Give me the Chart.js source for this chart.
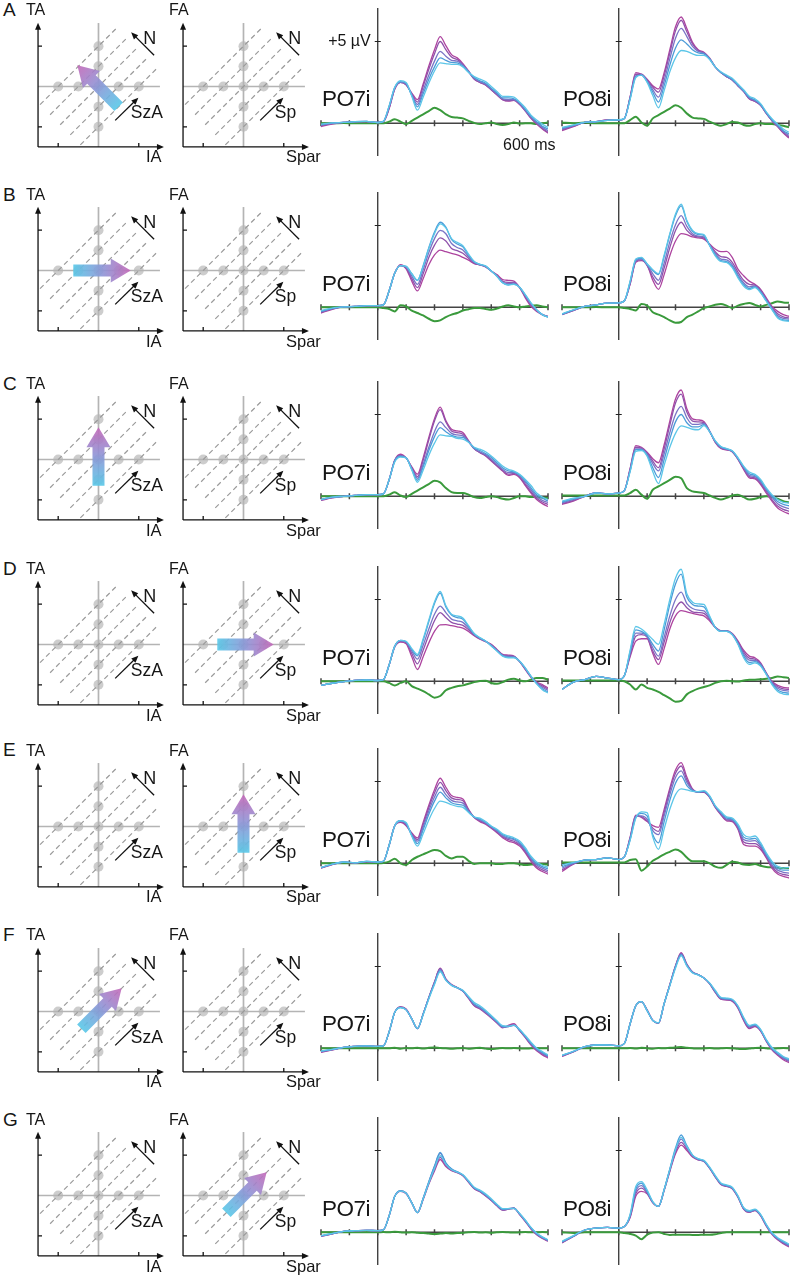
<!DOCTYPE html>
<html lang="en">
<head>
<meta charset="utf-8">
<title>PO7i / PO8i</title>
<script src="https://cdn.jsdelivr.net/npm/chart.js@4.4.1/dist/chart.umd.min.js"></script>
<style>
  html, body { margin: 0; padding: 0; background: #fff; }
  body { position: relative; width: 791px; height: 1277px; overflow: hidden;
         font-family: "Liberation Sans", Arial, Helvetica, sans-serif; color: #161616; }
  canvas { position: absolute; }
  .txt { position: absolute; line-height: 1; white-space: nowrap; }
</style>
</head>
<body>
<script>
// Tiempo (ms) de cada muestra
const tiempos = [-200,-160,-120,-80,-40,0, 20,40,60,80,100, 120,140,160,180,200, 220,240,260,280,300,
                 320,340,360,380,400, 420,440,460,480,500, 520,540,560,580,600];
const ticksMs = [-200,-100,0,100,200,300,400,500,600];
const ticksUV = [5];

// Esquemas: puntos grises, lineas iso-N (x - y = c), ticks de ejes
const puntosX = [-2,-1,0,1,2,0,0,0,0];
const puntosY = [0,0,0,0,0,-2,-1,1,2];
const isoN = [-2,-1,0,1,2];
const ticksEsq = [-2, 2];

// Flecha gruesa de cada fila: en que esquema (0 izq, 1 der), desde y hasta
const flechaEn = [0, 0, 0, 1, 1, 0, 1];
const flechaDesde = [[1,-1],[-1.25,0],[0,-1.3],[-1.3,0],[0,-1.3],[-0.85,-0.85],[-0.85,-0.85]];
const flechaHasta = [[-1.05,1.05],[1.6,0],[0,1.6],[1.5,0],[0,1.6],[1.15,1.15],[1.15,1.15]];

// ERPs: 5 niveles (cian -> magenta) y la diferencia (verde), µV
const A7 = [
  [-0.05,0.02,0.05,0.1,0.12,0.05, 0.12,1.05,2.2,2.6,2.5, 1.65,0.8,1.6,2.45,3.2, 3.7,3.65,3.6,3.6,3.45, 3.1,2.85,2.7,2.55,2.25, 1.95,1.65,1.65,1.6,1.3, 0.95,0.5,0.2,-0.05,-0.25],
  [-0.1,0.02,0.05,0.1,0.12,0.05, 0.12,1.05,2.2,2.55,2.45, 1.7,1.0,1.8,2.7,3.45, 4.0,3.85,3.72,3.7,3.5, 3.15,2.8,2.6,2.45,2.15, 1.85,1.55,1.55,1.5,1.25, 0.85,0.42,0.1,-0.18,-0.35],
  [-0.1,0,0.05,0.1,0.12,0.05, 0.12,1.0,2.15,2.5,2.4, 1.75,1.15,2.0,2.95,3.8, 4.4,4.1,3.85,3.8,3.55, 3.15,2.75,2.55,2.4,2.1, 1.8,1.5,1.45,1.45,1.2, 0.8,0.38,0.05,-0.25,-0.45],
  [-0.15,0,0.05,0.1,0.1,0.05, 0.1,0.9,2.1,2.5,2.35, 1.8,1.3,2.25,3.3,4.25, 5.0,4.5,4.05,3.9,3.6, 3.15,2.7,2.5,2.35,2.05, 1.75,1.45,1.38,1.42,1.18, 0.78,0.33,0,-0.3,-0.55],
  [-0.2,-0.05,0.05,0.1,0.1,0.05, 0.1,0.9,2.1,2.5,2.35, 1.85,1.45,2.4,3.5,4.5, 5.3,4.75,4.2,4.0,3.65, 3.2,2.7,2.5,2.35,2.05, 1.75,1.45,1.35,1.4,1.15, 0.75,0.3,-0.05,-0.35,-0.6]
];
const A7d = [0,0,0.02,0,0,0, 0,0.1,0.25,0.1,-0.05, 0.15,0.35,0.55,0.75,0.95, 0.8,0.55,0.38,0.35,0.3, 0.15,0.02,-0.05,0,0.05, -0.05,-0.1,-0.05,0.05,-0.02, 0,0,-0.05,0,0.05];
const A8 = [
  [-0.25,-0.1,0.05,0.1,0.18,0.22, 0.3,1.45,2.8,2.95,2.5, 1.7,0.95,2.0,3.15,4.0, 4.45,4.4,4.25,4.15,4.15, 3.9,3.45,3.15,2.95,2.75, 2.4,2.05,1.65,1.5,1.2, 0.7,0.28,-0.05,-0.35,-0.55],
  [-0.3,-0.12,0.05,0.1,0.18,0.2, 0.3,1.5,2.85,2.95,2.55, 1.9,1.3,2.3,3.55,4.6, 5.1,4.85,4.5,4.3,4.25, 3.95,3.45,3.1,2.9,2.7, 2.35,2.0,1.6,1.42,1.15, 0.65,0.22,-0.1,-0.45,-0.65],
  [-0.35,-0.15,0.05,0.1,0.18,0.2, 0.3,1.55,2.9,2.95,2.6, 2.05,1.6,2.6,3.95,5.2, 5.8,5.3,4.7,4.4,4.3, 3.95,3.45,3.1,2.85,2.65, 2.3,1.95,1.55,1.4,1.12, 0.62,0.18,-0.15,-0.5,-0.75],
  [-0.4,-0.18,0.05,0.1,0.2,0.2, 0.3,1.6,3.0,3.0,2.65, 2.2,1.9,2.9,4.3,5.65, 6.3,5.6,4.85,4.45,4.3, 3.95,3.45,3.1,2.85,2.65, 2.3,1.95,1.5,1.35,1.1, 0.6,0.15,-0.2,-0.55,-0.85],
  [-0.45,-0.2,0.05,0.1,0.2,0.2, 0.3,1.6,3.1,3.0,2.7, 2.3,2.1,3.1,4.5,5.9, 6.5,5.8,4.95,4.5,4.35, 4.0,3.45,3.1,2.85,2.65, 2.3,1.95,1.5,1.35,1.1, 0.6,0.15,-0.2,-0.6,-0.9]
];
const A8d = [0.05,0,0.05,0,0,0, 0,0.2,0.4,0.05,-0.15, 0.3,0.5,0.7,0.9,1.1, 0.95,0.6,0.35,0.3,0.27, 0.1,-0.05,-0.15,-0.05,0.08, 0.05,-0.1,-0.15,-0.05,0, -0.05,-0.05,-0.1,-0.15,-0.25];

const B7 = [
  [-0.2,-0.05,0.02,0.05,0.1,0.1, 0.15,1.0,2.1,2.55,2.5, 2.05,1.65,2.5,3.6,4.5, 5.1,4.85,4.2,3.97,3.77, 3.25,2.8,2.63,2.53,2.22, 1.9,1.5,1.36,1.4,1.23, 0.78,0.27,-0.15,-0.45,-0.6],
  [-0.25,-0.07,0.02,0.05,0.1,0.1, 0.15,1.0,2.1,2.55,2.5, 2.05,1.65,2.55,3.65,4.6, 5.2,4.9,4.15,3.87,3.7, 3.2,2.78,2.62,2.52,2.22, 1.9,1.5,1.37,1.42,1.23, 0.75,0.25,-0.15,-0.45,-0.6],
  [-0.28,-0.08,0.02,0.05,0.1,0.1, 0.15,1.0,2.1,2.55,2.45, 1.9,1.4,2.3,3.35,4.2, 4.7,4.5,3.9,3.66,3.5, 3.1,2.75,2.6,2.5,2.22, 1.92,1.55,1.45,1.48,1.22, 0.7,0.2,-0.18,-0.45,-0.58],
  [-0.3,-0.1,0.02,0.05,0.1,0.1, 0.15,1.0,2.1,2.55,2.4, 1.75,1.2,2.05,3.05,3.8, 4.25,4.05,3.6,3.46,3.3, 3.0,2.7,2.6,2.48,2.22, 1.95,1.6,1.52,1.52,1.22, 0.65,0.15,-0.2,-0.45,-0.57],
  [-0.35,-0.12,0.02,0.05,0.1,0.1, 0.15,1.0,2.1,2.6,2.35, 1.6,1.0,1.75,2.6,3.2, 3.5,3.4,3.3,3.2,3.05, 2.88,2.67,2.6,2.47,2.22, 2.0,1.7,1.65,1.6,1.2, 0.58,0.06,-0.25,-0.45,-0.55]
];
const B7d = [0,0,0,0,0,0, -0.05,-0.1,-0.25,0.12,0.05, -0.2,-0.35,-0.5,-0.7,-0.85, -0.8,-0.6,-0.45,-0.35,-0.2, -0.12,-0.05,-0.04,-0.1,-0.15, -0.08,0.05,0.12,0.05,0, 0.05,0.1,0.12,0.05,0];
const B8 = [
  [-0.4,-0.15,0.05,0.15,0.25,0.27, 0.4,1.6,2.95,3.05,2.65, 2.3,2.06,3.2,4.5,5.7, 6.3,5.3,4.7,4.5,4.44, 3.78,3.15,2.8,2.74,2.43, 1.8,1.3,1.08,1.2,0.88, 0.37,-0.14,-0.66,-0.82,-0.86],
  [-0.42,-0.17,0.05,0.15,0.25,0.27, 0.4,1.55,2.9,3.0,2.65, 2.25,2.0,3.1,4.45,5.6, 6.2,5.25,4.65,4.45,4.4, 3.8,3.2,2.85,2.8,2.5, 1.88,1.4,1.15,1.25,0.92, 0.4,-0.12,-0.6,-0.77,-0.8],
  [-0.43,-0.18,0.05,0.15,0.25,0.27, 0.4,1.5,2.85,2.95,2.6, 2.05,1.65,2.7,4.0,5.05, 5.6,4.95,4.5,4.35,4.3, 3.82,3.3,2.95,2.9,2.6, 2.0,1.5,1.25,1.3,0.98, 0.45,-0.05,-0.5,-0.68,-0.72],
  [-0.44,-0.19,0.05,0.15,0.25,0.27, 0.4,1.45,2.8,2.9,2.55, 1.85,1.4,2.4,3.65,4.7, 5.2,4.7,4.4,4.3,4.25, 3.85,3.4,3.1,3.05,2.75, 2.15,1.65,1.4,1.35,1.05, 0.5,0,-0.4,-0.58,-0.65],
  [-0.45,-0.2,0.05,0.15,0.25,0.27, 0.4,1.4,2.75,2.85,2.6, 1.65,1.1,2.0,3.15,4.05, 4.5,4.44,4.3,4.24,4.17, 3.87,3.56,3.4,3.42,3.05, 2.33,1.93,1.6,1.4,1.1, 0.58,0.06,-0.25,-0.45,-0.55]
];
const B8d = [0,0,0,0.02,0,0, -0.05,-0.1,-0.2,0.2,0.1, -0.3,-0.45,-0.6,-0.8,-0.95, -0.9,-0.6,-0.45,-0.25,-0.05, 0.05,0.15,0.2,0.1,-0.05, 0.1,0.2,0.27,0.15,0.05, 0.15,0.25,0.35,0.3,0.27];

const C7 = [
  [-0.2,-0.05,0,0.05,0.1,0.1, 0.15,1.0,2.1,2.4,2.35, 1.6,0.86,1.6,2.5,3.25, 3.75,3.7,3.66,3.54,3.5, 3.3,3.0,2.88,2.72,2.47, 2.16,1.85,1.65,1.54,1.34, 1.03,0.66,0.2,-0.04,-0.2],
  [-0.2,-0.05,0,0.05,0.1,0.1, 0.15,1.0,2.15,2.45,2.35, 1.65,0.98,1.8,2.8,3.65, 4.2,3.95,3.72,3.62,3.6, 3.32,2.95,2.8,2.62,2.38, 2.05,1.75,1.55,1.5,1.3, 0.95,0.52,0.1,-0.12,-0.28],
  [-0.2,-0.06,0,0.05,0.1,0.1, 0.15,1.0,2.2,2.45,2.35, 1.7,1.1,1.95,3.0,3.95, 4.55,4.2,3.85,3.75,3.7, 3.35,2.92,2.72,2.55,2.28, 1.95,1.65,1.45,1.45,1.25, 0.85,0.4,-0.02,-0.25,-0.38],
  [-0.22,-0.08,0,0.05,0.1,0.1, 0.15,1.0,2.2,2.5,2.35, 1.75,1.2,2.2,3.45,4.6, 5.3,4.55,4.0,3.9,3.8, 3.35,2.9,2.68,2.5,2.2, 1.88,1.58,1.35,1.4,1.18, 0.75,0.28,-0.12,-0.35,-0.5],
  [-0.25,-0.1,0,0.05,0.1,0.1, 0.15,1.0,2.2,2.57,2.35, 1.8,1.35,2.35,3.6,4.75, 5.45,4.63,4.1,4.0,3.9, 3.4,2.92,2.67,2.47,2.16, 1.85,1.54,1.28,1.34,1.13, 0.66,0.2,-0.2,-0.45,-0.62]
];
const C7d = [0,0,0,0,0,0, 0,0.1,0.25,0.05,-0.04, 0.15,0.35,0.55,0.75,0.95, 0.85,0.5,0.25,0.2,0.2, 0.1,-0.05,-0.1,-0.05,0, -0.05,-0.15,-0.2,-0.1,0, 0,-0.05,-0.05,-0.08,-0.1];
const C8 = [
  [-0.3,-0.12,0,0.2,0.15,0.2, 0.35,1.5,2.75,2.8,2.45, 1.5,0.78,1.9,3.0,3.85, 4.3,4.22,4.1,4.07,4.32, 3.95,3.4,3.05,2.92,2.78, 2.37,1.85,1.48,1.34,1.03, 0.51,0.1,-0.2,-0.37,-0.41],
  [-0.35,-0.15,0,0.2,0.15,0.2, 0.35,1.55,2.85,2.85,2.5, 1.75,1.15,2.25,3.5,4.55, 5.0,4.5,4.25,4.25,4.38, 3.96,3.38,3.02,2.9,2.77, 2.33,1.8,1.38,1.27,0.95, 0.45,0.02,-0.32,-0.5,-0.58],
  [-0.4,-0.2,0,0.2,0.15,0.2, 0.35,1.6,2.9,2.9,2.6, 2.0,1.55,2.6,3.9,5.0, 5.5,4.8,4.4,4.4,4.45, 3.97,3.35,2.98,2.88,2.75, 2.3,1.75,1.28,1.2,0.88, 0.38,-0.05,-0.45,-0.65,-0.75],
  [-0.45,-0.25,0,0.2,0.15,0.2, 0.35,1.65,3.0,2.95,2.65, 2.15,1.75,2.9,4.35,5.7, 6.25,5.15,4.6,4.55,4.5, 3.98,3.32,2.95,2.86,2.73, 2.28,1.7,1.2,1.13,0.8, 0.3,-0.2,-0.6,-0.8,-0.92],
  [-0.5,-0.3,0,0.2,0.15,0.2, 0.35,1.7,3.1,3.0,2.7, 2.3,2.05,3.15,4.6,5.95, 6.5,5.35,4.73,4.67,4.57, 4.0,3.3,2.92,2.84,2.72, 2.26,1.65,1.13,1.07,0.72, 0.2,-0.3,-0.72,-0.93,-1.07]
];
const C8d = [0.05,0.05,0.05,0.05,0.05,0.05, 0.05,0.2,0.4,0.1,-0.15, 0.4,0.6,0.8,1.0,1.2, 1.1,0.5,0.3,0.25,0.2, 0.05,-0.1,-0.2,-0.1,0.05, 0.1,-0.05,-0.2,-0.15,-0.05, 0,-0.05,-0.15,-0.3,-0.37];

const D7 = [
  [-0.25,-0.12,-0.02,0.05,0.08,0.05, 0.1,1.0,2.15,2.5,2.45, 2.0,1.65,2.6,3.75,4.85, 5.5,4.63,4.1,4.0,3.87, 3.4,2.92,2.67,2.47,2.16, 1.85,1.54,1.44,1.44,1.23, 0.82,0.31,-0.16,-0.51,-0.72],
  [-0.25,-0.12,-0.02,0.05,0.08,0.05, 0.1,1.0,2.15,2.5,2.42, 1.95,1.55,2.5,3.65,4.75, 5.4,4.55,4.05,3.9,3.8, 3.35,2.9,2.65,2.46,2.17, 1.86,1.56,1.47,1.46,1.22, 0.8,0.3,-0.14,-0.46,-0.65],
  [-0.25,-0.12,-0.02,0.05,0.08,0.05, 0.1,1.0,2.15,2.48,2.4, 1.85,1.35,2.2,3.2,4.1, 4.6,4.2,3.8,3.7,3.6, 3.25,2.86,2.62,2.45,2.2, 1.9,1.6,1.52,1.5,1.22, 0.77,0.28,-0.1,-0.36,-0.56],
  [-0.25,-0.12,-0.02,0.05,0.08,0.05, 0.1,1.0,2.12,2.45,2.35, 1.7,1.07,1.9,2.85,3.7, 4.2,3.9,3.6,3.5,3.42, 3.15,2.82,2.6,2.44,2.23, 1.92,1.62,1.56,1.52,1.21, 0.75,0.27,-0.07,-0.28,-0.48],
  [-0.25,-0.12,-0.02,0.05,0.08,0.05, 0.1,1.0,2.1,2.4,2.3, 1.5,0.72,1.5,2.35,3.05, 3.45,3.46,3.4,3.33,3.25, 3.05,2.78,2.57,2.43,2.26, 1.95,1.65,1.6,1.54,1.2, 0.72,0.25,-0.04,-0.2,-0.41]
];
const D7d = [0,0,0,0,0,0, 0,-0.1,-0.25,-0.1,0, -0.3,-0.45,-0.6,-0.8,-1.0, -0.9,-0.55,-0.4,-0.3,-0.25, -0.15,-0.05,0.02,0.04,-0.1, -0.15,-0.05,0.1,0.15,0.05, 0,0.1,0.2,0.2,0.1];
const D8 = [
  [-0.5,-0.05,0.1,0.3,0.2,0.1, 0.35,1.9,3.35,3.2,2.9, 2.55,2.26,3.5,5.0,6.3, 6.85,5.35,4.84,4.73,4.7, 4.0,3.3,3.05,3.05,2.84, 2.26,1.44,1.03,1.13,0.93, 0.41,-0.2,-0.62,-0.78,-0.82],
  [-0.5,-0.05,0.1,0.3,0.2,0.1, 0.35,1.8,3.15,3.05,2.8, 2.25,1.85,3.15,4.7,5.95, 6.55,5.15,4.7,4.6,4.55, 3.95,3.3,3.06,3.06,2.86, 2.3,1.55,1.15,1.2,0.98, 0.44,-0.15,-0.53,-0.68,-0.73],
  [-0.5,-0.05,0.1,0.3,0.2,0.1, 0.35,1.7,2.95,2.95,2.75, 2.05,1.54,2.7,4.0,5.0, 5.45,4.75,4.45,4.35,4.3, 3.85,3.3,3.07,3.07,2.88, 2.36,1.68,1.3,1.28,1.04, 0.47,-0.08,-0.42,-0.56,-0.6],
  [-0.5,-0.05,0.1,0.3,0.2,0.1, 0.35,1.6,2.75,2.85,2.7, 1.85,1.33,2.4,3.6,4.45, 4.85,4.5,4.25,4.2,4.15, 3.78,3.3,3.08,3.08,2.9, 2.42,1.8,1.42,1.36,1.08, 0.49,-0.04,-0.33,-0.46,-0.5],
  [-0.5,-0.05,0.1,0.3,0.2,0.1, 0.35,1.5,2.45,2.6,2.6, 1.7,1.03,2.0,3.2,4.0, 4.32,4.25,4.16,4.07,4.0, 3.7,3.3,3.1,3.1,2.92, 2.47,1.9,1.54,1.44,1.13, 0.51,0,-0.25,-0.37,-0.41]
];
const D8d = [0.05,0.05,0.05,0.05,0.05,0.05, 0,-0.2,-0.5,-0.2,-0.4, -0.5,-0.65,-0.85,-1.05,-1.25, -1.2,-0.8,-0.6,-0.45,-0.35, -0.25,-0.1,0,0.04,0, -0.02,0.05,0.1,0.1,0.12, 0.16,0.2,0.3,0.25,0.2];

const E7 = [
  [-0.25,-0.05,0.08,0.02,0.12,0.08, 0.12,1.1,2.3,2.6,2.5, 1.65,1.05,1.8,2.65,3.35, 3.8,3.72,3.58,3.48,3.42, 3.1,2.84,2.76,2.55,2.28, 2.08,1.81,1.67,1.56,1.36, 0.95,0.43,0.08,-0.12,-0.25],
  [-0.26,-0.05,0.08,0.02,0.12,0.08, 0.12,1.1,2.3,2.6,2.45, 1.7,1.2,2.05,3.0,3.8, 4.35,4.0,3.7,3.6,3.55, 3.15,2.83,2.7,2.52,2.25, 2.03,1.75,1.6,1.5,1.28, 0.88,0.36,-0.02,-0.2,-0.35],
  [-0.27,-0.06,0.08,0.02,0.11,0.08, 0.12,1.1,2.3,2.6,2.4, 1.75,1.35,2.2,3.2,4.05, 4.65,4.2,3.85,3.75,3.68, 3.2,2.82,2.65,2.47,2.22, 1.98,1.68,1.52,1.44,1.2, 0.8,0.28,-0.1,-0.3,-0.45],
  [-0.28,-0.07,0.07,0.02,0.1,0.08, 0.12,1.1,2.3,2.55,2.35, 1.8,1.45,2.35,3.4,4.3, 4.95,4.45,4.0,3.9,3.82, 3.25,2.8,2.6,2.43,2.18, 1.92,1.62,1.45,1.35,1.13, 0.72,0.2,-0.2,-0.4,-0.55],
  [-0.3,-0.08,0.06,0.02,0.1,0.08, 0.12,1.1,2.3,2.5,2.3, 1.85,1.55,2.5,3.55,4.5, 5.2,4.65,4.14,4.03,3.93, 3.3,2.8,2.55,2.39,2.14, 1.87,1.56,1.36,1.26,1.05, 0.64,0.12,-0.29,-0.5,-0.66]
];
const E7d = [0,0,0,0,0,0, 0.02,0.1,0.28,0,-0.1, 0.2,0.4,0.55,0.7,0.82, 0.75,0.45,0.3,0.4,0.4, 0.15,-0.04,0,0,0, -0.05,-0.04,0,0,-0.05, -0.1,-0.08,-0.05,-0.05,-0.08];
const E8 = [
  [-0.1,0.05,0.2,0.23,0.33,0.23, 0.4,1.4,2.75,3.15,3.1, 1.6,0.85,2.1,3.3,4.2, 4.55,4.49,4.4,4.38,4.44, 4.14,3.52,3.17,2.84,2.76, 2.39,1.77,1.6,1.67,1.26, 0.64,0.12,-0.19,-0.29,-0.25],
  [-0.2,0.02,0.2,0.23,0.33,0.23, 0.4,1.45,2.8,3.05,2.9, 1.75,1.25,2.55,3.85,4.9, 5.35,4.75,4.44,4.37,4.4, 4.1,3.5,3.1,2.78,2.7, 2.3,1.6,1.48,1.52,1.15, 0.55,0.02,-0.3,-0.42,-0.42],
  [-0.3,0,0.2,0.23,0.33,0.23, 0.4,1.5,2.85,2.9,2.7, 2.0,1.75,2.9,4.2,5.25, 5.65,4.95,4.48,4.36,4.38, 4.07,3.47,3.05,2.7,2.65, 2.22,1.45,1.35,1.38,1.05, 0.48,-0.1,-0.42,-0.55,-0.6],
  [-0.4,-0.03,0.2,0.23,0.33,0.23, 0.4,1.55,2.9,2.85,2.6, 2.15,1.95,3.1,4.45,5.5, 5.95,5.1,4.5,4.35,4.35, 4.05,3.45,3.0,2.65,2.6, 2.15,1.3,1.2,1.2,0.95, 0.4,-0.2,-0.55,-0.68,-0.75],
  [-0.5,-0.05,0.2,0.23,0.33,0.23, 0.4,1.6,2.95,2.8,2.55, 2.3,2.2,3.3,4.6,5.7, 6.15,5.27,4.55,4.34,4.34, 4.03,3.42,2.96,2.6,2.55, 2.08,1.15,1.05,1.05,0.84, 0.33,-0.29,-0.66,-0.8,-0.9]
];
const E8d = [0.05,0.05,0.05,0.05,0.05,0.05, 0.05,0.2,0.25,-0.45,-0.2, 0.15,0.35,0.55,0.7,0.84, 0.7,0.35,0.12,0.12,0.12, 0,-0.2,-0.28,-0.1,0.1, 0.05,-0.08,-0.1,-0.05,-0.15, -0.22,-0.25,-0.27,-0.29,-0.29];

const F7 = [
  [-0.17,-0.06,0.06,0.12,0.15,0.12, 0.15,1.0,2.2,2.48,2.35, 1.8,1.22,2.05,3.02,3.9, 4.68,4.15,3.85,3.7,3.55, 3.17,2.8,2.6,2.32,2.0, 1.68,1.38,1.35,1.42,1.16, 0.78,0.38,0.02,-0.2,-0.4],
  [-0.18,-0.07,0.06,0.12,0.15,0.12, 0.15,1.0,2.2,2.5,2.35, 1.8,1.2,2.08,3.07,3.96, 4.75,4.18,3.86,3.7,3.52, 3.13,2.72,2.52,2.25,1.95, 1.63,1.33,1.33,1.4,1.12, 0.74,0.32,-0.03,-0.25,-0.45],
  [-0.2,-0.08,0.06,0.12,0.15,0.12, 0.15,1.0,2.2,2.5,2.36, 1.8,1.2,2.1,3.1,4.0, 4.82,4.2,3.87,3.7,3.5, 3.1,2.66,2.47,2.2,1.9, 1.6,1.3,1.33,1.42,1.1, 0.7,0.27,-0.07,-0.3,-0.5],
  [-0.22,-0.09,0.06,0.12,0.15,0.12, 0.15,1.0,2.2,2.52,2.38, 1.8,1.2,2.1,3.1,4.05, 4.88,4.22,3.88,3.7,3.5, 3.07,2.62,2.43,2.17,1.88, 1.58,1.28,1.36,1.45,1.08, 0.68,0.24,-0.1,-0.33,-0.53],
  [-0.25,-0.1,0.05,0.12,0.15,0.12, 0.15,1.0,2.2,2.55,2.4, 1.8,1.2,2.1,3.1,4.05, 4.9,4.25,3.9,3.72,3.5, 3.05,2.6,2.4,2.15,1.85, 1.55,1.25,1.4,1.5,1.08, 0.65,0.2,-0.15,-0.4,-0.6]
];
const F7d = [0,0,0,0,0,0, 0,0,0.03,-0.03,0.02, 0,0.03,-0.02,0.03,0.05, 0.02,0,-0.03,0,0.02, -0.03,0,0.03,-0.02,-0.05, -0.02,0.02,0,0.02,0, -0.02,0,0.02,0,0];
const F8 = [
  [-0.42,-0.18,0.1,0.2,0.2,0.15, 0.3,1.5,2.6,2.85,2.3, 1.7,1.56,2.72,3.82,4.9, 5.65,5.02,4.6,4.48,4.3, 4.0,3.55,3.12,3.07,3.0, 2.6,1.9,1.4,1.48,1.16, 0.53,0.05,-0.25,-0.5,-0.65],
  [-0.43,-0.19,0.1,0.2,0.2,0.15, 0.3,1.5,2.6,2.85,2.3, 1.7,1.55,2.74,3.85,4.97, 5.72,5.07,4.63,4.5,4.3, 3.98,3.5,3.08,3.03,2.97, 2.57,1.85,1.35,1.44,1.13, 0.5,0,-0.3,-0.55,-0.7],
  [-0.45,-0.2,0.1,0.2,0.2,0.15, 0.3,1.5,2.6,2.85,2.3, 1.7,1.54,2.74,3.87,5.0, 5.76,5.1,4.65,4.5,4.3, 3.97,3.46,3.05,3.0,2.94, 2.53,1.8,1.3,1.4,1.1, 0.47,-0.04,-0.35,-0.6,-0.76],
  [-0.48,-0.21,0.09,0.2,0.2,0.15, 0.3,1.5,2.6,2.85,2.33, 1.71,1.53,2.73,3.88,5.02, 5.8,5.12,4.66,4.5,4.3, 3.96,3.44,3.02,2.97,2.9, 2.5,1.75,1.25,1.36,1.07, 0.45,-0.07,-0.38,-0.64,-0.8],
  [-0.5,-0.22,0.08,0.2,0.2,0.15, 0.3,1.5,2.6,2.85,2.35, 1.72,1.52,2.72,3.9,5.05, 5.85,5.15,4.67,4.5,4.3, 3.95,3.42,3.0,2.95,2.88, 2.45,1.7,1.2,1.32,1.05, 0.42,-0.1,-0.42,-0.7,-0.88]
];
const F8d = [0,0,0,0,0,0, 0,0.02,-0.02,0.03,0, -0.03,0.02,0,0.03,0.05, 0.08,0.03,0,-0.02,0, 0.02,-0.02,0,0.02,0, -0.03,-0.05,-0.02,0.02,0.03, 0,-0.02,0,0.02,0];

const G7 = [
  [-0.2,-0.07,0.06,0.1,0.12,0.1, 0.15,1.0,2.2,2.52,2.38, 1.8,1.2,2.05,3.02,3.9, 4.68,4.15,3.82,3.68,3.52, 3.15,2.75,2.58,2.35,2.05, 1.72,1.45,1.45,1.45,1.15, 0.75,0.3,-0.05,-0.28,-0.45],
  [-0.22,-0.08,0.06,0.1,0.12,0.1, 0.15,1.0,2.2,2.55,2.4, 1.8,1.2,2.08,3.1,4.05, 4.88,4.25,3.88,3.7,3.5, 3.12,2.72,2.55,2.3,2.0, 1.68,1.4,1.45,1.48,1.14, 0.72,0.28,-0.07,-0.3,-0.48],
  [-0.23,-0.08,0.06,0.1,0.12,0.1, 0.15,1.0,2.2,2.55,2.4, 1.8,1.2,2.07,3.08,4.02, 4.82,4.22,3.86,3.69,3.5, 3.1,2.7,2.52,2.27,1.98, 1.66,1.38,1.43,1.47,1.12, 0.7,0.25,-0.1,-0.33,-0.5],
  [-0.24,-0.09,0.06,0.1,0.12,0.1, 0.15,1.0,2.2,2.52,2.38, 1.8,1.2,2.03,3.0,3.85, 4.58,4.1,3.8,3.66,3.48, 3.08,2.68,2.5,2.25,1.96, 1.64,1.36,1.42,1.47,1.1, 0.68,0.23,-0.12,-0.35,-0.52],
  [-0.25,-0.1,0.06,0.1,0.12,0.1, 0.15,1.0,2.2,2.5,2.35, 1.8,1.2,2.0,2.95,3.75, 4.45,4.02,3.76,3.64,3.46, 3.06,2.66,2.48,2.22,1.94, 1.62,1.35,1.42,1.48,1.08, 0.66,0.2,-0.15,-0.38,-0.55]
];
const G7d = [0,0,0,0,0,0, 0.02,0,0.03,0,-0.02, 0,-0.03,-0.05,-0.08,-0.1, -0.08,-0.05,-0.08,-0.05,-0.03, 0,0.02,-0.02,0,-0.03, 0,0.02,0,-0.02,0, 0.02,0,0,0.02,0];
const G8 = [
  [-0.55,-0.2,0.14,0.25,0.3,0.25, 0.35,1.1,2.8,3.1,2.6, 1.88,1.58,2.6,3.85,5.05, 5.8,5.25,4.72,4.5,4.4, 4.0,3.48,3.02,2.9,2.76, 2.24,1.52,1.32,1.42,1.1, 0.48,-0.03,-0.33,-0.53,-0.72],
  [-0.58,-0.23,0.14,0.25,0.3,0.25, 0.35,1.05,2.65,3.0,2.5, 1.85,1.58,2.62,3.88,5.15, 5.95,5.3,4.72,4.48,4.37, 3.96,3.44,2.98,2.86,2.72, 2.2,1.48,1.28,1.38,1.07, 0.45,-0.06,-0.37,-0.58,-0.78],
  [-0.6,-0.24,0.14,0.25,0.3,0.25, 0.35,1.0,2.5,2.85,2.45, 1.85,1.58,2.6,3.82,5.0, 5.7,5.2,4.68,4.46,4.35, 3.94,3.42,2.96,2.84,2.7, 2.18,1.46,1.26,1.36,1.05, 0.43,-0.08,-0.4,-0.62,-0.82],
  [-0.62,-0.25,0.14,0.25,0.3,0.25, 0.35,0.95,2.35,2.7,2.4, 1.82,1.58,2.58,3.78,4.9, 5.5,5.1,4.65,4.44,4.34, 3.93,3.4,2.94,2.82,2.68, 2.16,1.44,1.24,1.34,1.03, 0.41,-0.1,-0.43,-0.66,-0.86],
  [-0.65,-0.26,0.14,0.25,0.3,0.25, 0.35,0.9,2.2,2.5,2.35, 1.8,1.58,2.55,3.72,4.8, 5.33,5.0,4.6,4.42,4.33, 3.92,3.38,2.92,2.8,2.66, 2.14,1.42,1.22,1.32,1.0, 0.38,-0.12,-0.46,-0.7,-0.9]
];
const G8d = [0,-0.05,0,0,0,0, -0.05,-0.1,-0.2,-0.42,-0.15, -0.02,0,-0.1,-0.16,-0.15, -0.15,-0.15,-0.16,-0.16,-0.15, -0.15,-0.12,-0.05,0,0, 0,0,0,0,0, 0,0,0,0,0];

const filas = ['A','B','C','D','E','F','G'];
const canales = ['PO7i','PO8i'];
const datosFila = [[A7,A7d,A8,A8d],[B7,B7d,B8,B8d],[C7,C7d,C8,C8d],[D7,D7d,D8,D8d],
                   [E7,E7d,E8,E8d],[F7,F7d,F8,F8d],[G7,G7d,G8,G8d]];

const coloresSerie = ['#5cc6e8', '#4c9bd8', '#7a74c6', '#9052ab', '#ad449f'];
const colorDif = '#3a9a3c';
const gradFlecha = ['rgba(88,200,232,0.9)', 'rgba(140,150,215,0.9)', 'rgba(196,104,184,0.9)'];

// Maquetacion (px)
const ceros = [123, 307.7, 496.7, 681.7, 863.3, 1048, 1232.7];   // linea de 0 µV de cada fila
const PAD = 8, ERP_W = 243, ERP_H = 164;
const erpIzq = [313, 554];
const PADE = 10, ESQ_W = 157, ESQ_H = 155;
const esqIzq = [22, 167];

function nuevoCanvas(x, y, w, h) {
    const c = document.createElement('canvas');
    c.width = w;
    c.height = h;
    c.style.left = x + 'px';
    c.style.top = y + 'px';
    document.body.appendChild(c);
    return c;
}

function texto(t, x, base, size, alin) {
    const d = document.createElement('div');
    d.className = 'txt';
    d.textContent = t;
    d.style.fontSize = size + 'px';
    d.style.left = x + 'px';
    d.style.top = (base - 0.85 * size) + 'px';
    if (alin === 'right') d.style.transform = 'translateX(-100%)';
    document.body.appendChild(d);
    return d;
}

function puntaFlecha(ctx, x0, y0, x1, y1, largo, ancho) {
    const a = Math.atan2(y1 - y0, x1 - x0);
    ctx.beginPath();
    ctx.moveTo(x1, y1);
    ctx.lineTo(x1 - largo * Math.cos(a) + ancho * Math.sin(a), y1 - largo * Math.sin(a) - ancho * Math.cos(a));
    ctx.lineTo(x1 - largo * Math.cos(a) - ancho * Math.sin(a), y1 - largo * Math.sin(a) + ancho * Math.cos(a));
    ctx.closePath();
    ctx.fill();
}

function flechaFina(ctx, x0, y0, x1, y1) {
    const a = Math.atan2(y1 - y0, x1 - x0);
    ctx.beginPath();
    ctx.moveTo(x0, y0);
    ctx.lineTo(x1 - 4 * Math.cos(a), y1 - 4 * Math.sin(a));
    ctx.stroke();
    puntaFlecha(ctx, x0, y0, x1, y1, 7, 3);
}

// Ejes del ERP: cruzan en (0 ms, 0 µV)
const ejesERP = {
    id: 'ejesERP',
    beforeDatasetsDraw(chart) {
        const { ctx, chartArea: a, scales: { x, y } } = chart;
        const x0 = x.getPixelForValue(0), y0 = y.getPixelForValue(0);
        ctx.save();
        ctx.strokeStyle = '#222';
        ctx.lineWidth = 1.2;
        ctx.beginPath();
        ctx.moveTo(x0, a.top);
        ctx.lineTo(x0, a.bottom);
        ticksUV.forEach(v => {
            const py = y.getPixelForValue(v);
            ctx.moveTo(x0 - 3, py);
            ctx.lineTo(x0 + 3, py);
        });
        ctx.stroke();
        ctx.strokeStyle = '#444';
        ctx.lineWidth = 1.5;
        ctx.beginPath();
        ctx.moveTo(x.getPixelForValue(ticksMs[0]), y0);
        ctx.lineTo(x.getPixelForValue(ticksMs[ticksMs.length - 1]), y0);
        ticksMs.forEach(t => {
            const px = x.getPixelForValue(t);
            ctx.moveTo(px, y0 - 3);
            ctx.lineTo(px, y0 + 3);
        });
        ctx.stroke();
        ctx.restore();
    }
};

// Ejes, flechas N / SzA y flecha gruesa del esquema
const dibujoEsquema = {
    id: 'esquema',
    afterDatasetsDraw(chart, args, opts) {
        const { ctx, scales: { x, y } } = chart;
        const px = v => x.getPixelForValue(v), py = v => y.getPixelForValue(v);
        ctx.save();
        ctx.strokeStyle = '#111';
        ctx.fillStyle = '#111';
        ctx.lineWidth = 1.3;
        // ejes con flecha
        ctx.beginPath();
        ctx.moveTo(px(-3), py(-3));
        ctx.lineTo(px(3.1), py(-3));
        ctx.moveTo(px(-3), py(-3));
        ctx.lineTo(px(-3), py(3.03));
        ticksEsq.forEach(t => {
            ctx.moveTo(px(t), py(-3));
            ctx.lineTo(px(t), py(-3) - 4);
            ctx.moveTo(px(-3), py(t));
            ctx.lineTo(px(-3) + 4, py(t));
        });
        ctx.stroke();
        puntaFlecha(ctx, px(-3), py(-3), px(3.25), py(-3), 7, 3);
        puntaFlecha(ctx, px(-3), py(-3), px(-3), py(3.17), 7, 3);
        // flechas finas N y SzA/Sp
        ctx.lineWidth = 1.3;
        flechaFina(ctx, px(2.76), py(1.55), px(1.62), py(2.69));
        flechaFina(ctx, px(0.83), py(-1.68), px(1.98), py(-0.56));
        // flecha gruesa
        if (opts.desde) {
            const x0 = px(opts.desde[0]), y0 = py(opts.desde[1]);
            const x1 = px(opts.hasta[0]), y1 = py(opts.hasta[1]);
            const largo = Math.hypot(x1 - x0, y1 - y0);
            const cuerpo = 12, cabeza = 24, lc = 20;
            ctx.translate(x0, y0);
            ctx.rotate(Math.atan2(y1 - y0, x1 - x0));
            const g = ctx.createLinearGradient(0, 0, largo, 0);
            g.addColorStop(0, gradFlecha[0]);
            g.addColorStop(0.5, gradFlecha[1]);
            g.addColorStop(1, gradFlecha[2]);
            ctx.fillStyle = g;
            ctx.beginPath();
            ctx.moveTo(0, -cuerpo / 2);
            ctx.lineTo(largo - lc, -cuerpo / 2);
            ctx.lineTo(largo - lc, -cabeza / 2);
            ctx.lineTo(largo, 0);
            ctx.lineTo(largo - lc, cabeza / 2);
            ctx.lineTo(largo - lc, cuerpo / 2);
            ctx.lineTo(0, cuerpo / 2);
            ctx.closePath();
            ctx.fill();
        }
        ctx.restore();
    }
};

function graficoERP(canvas, series, dif) {
    const ds = series.map((s, k) => ({
        data: s.map((v, i) => ({ x: tiempos[i], y: v })),
        borderColor: coloresSerie[k],
        borderWidth: 1.3,
        pointRadius: 0,
        fill: false,
        cubicInterpolationMode: 'monotone'
    }));
    ds.push({
        data: dif.map((v, i) => ({ x: tiempos[i], y: v })),
        borderColor: colorDif,
        borderWidth: 2,
        pointRadius: 0,
        fill: false,
        cubicInterpolationMode: 'monotone'
    });
    return new Chart(canvas, {
        type: 'line',
        data: { datasets: ds },
        options: {
            responsive: false,
            animation: false,
            events: [],
            layout: { padding: PAD },
            plugins: { legend: { display: false }, tooltip: { enabled: false } },
            scales: {
                x: { type: 'linear', min: -200, max: 600, display: false },
                y: { type: 'linear', min: -2, max: 7.05, display: false }
            }
        },
        plugins: [ejesERP]
    });
}

function graficoEsquema(canvas, flecha) {
    const E = 3.8;  // extension de las lineas iso-N sobre x + y
    const ds = isoN.map(c => ({
        data: [{ x: (c - E) / 2, y: (-c - E) / 2 }, { x: (c + E) / 2, y: (E - c) / 2 }],
        showLine: true,
        borderColor: '#9a9a9a',
        borderWidth: 1.2,
        borderDash: [5, 3.5],
        pointRadius: 0
    }));
    ds.push({
        data: [{ x: -3, y: 0 }, { x: 3.05, y: 0 }],
        showLine: true, borderColor: '#b4b4b4', borderWidth: 1.7, pointRadius: 0
    });
    ds.push({
        data: [{ x: 0, y: -3 }, { x: 0, y: 3.15 }],
        showLine: true, borderColor: '#b4b4b4', borderWidth: 1.7, pointRadius: 0
    });
    ds.push({
        data: puntosX.map((v, i) => ({ x: v, y: puntosY[i] })),
        showLine: false,
        pointRadius: 5,
        pointBackgroundColor: '#cdcdcd',
        pointBorderWidth: 0
    });
    return new Chart(canvas, {
        type: 'scatter',
        data: { datasets: ds },
        options: {
            responsive: false,
            animation: false,
            events: [],
            layout: { padding: PADE },
            plugins: { legend: { display: false }, tooltip: { enabled: false }, esquema: flecha || {} },
            scales: {
                x: { type: 'linear', min: -3.3, max: 3.5, display: false },
                y: { type: 'linear', min: -3.3, max: 3.4, display: false }
            }
        },
        plugins: [dibujoEsquema]
    });
}

filas.forEach((letra, r) => {
    const cero = ceros[r];
    const cy = cero - 37;
    const [s7, d7, s8, d8] = datosFila[r];

    // Esquemas (TA/IA y FA/Spar)
    [0, 1].forEach(k => {
        const cv = nuevoCanvas(esqIzq[k], Math.round(cy - 78.5), ESQ_W, ESQ_H);
        const fl = flechaEn[r] === k ? { desde: flechaDesde[r], hasta: flechaHasta[r] } : null;
        const ch = graficoEsquema(cv, fl);
        const gx = v => cv.offsetLeft + ch.scales.x.getPixelForValue(v);
        const gy = v => cv.offsetTop + ch.scales.y.getPixelForValue(v);
        texto('N', gx(2.22), gy(2.08), 18);
        texto(k === 0 ? 'SzA' : 'Sp', gx(k === 0 ? 1.6 : 1.55), gy(-1.6), 17.5);
    });

    // ERPs
    const top = Math.round(cero - 123.3);
    const ch7 = graficoERP(nuevoCanvas(erpIzq[0], top, ERP_W, ERP_H), s7, d7);
    graficoERP(nuevoCanvas(erpIzq[1], top, ERP_W, ERP_H), s8, d8);

    texto(letra, 3, cy - 70, 19);
    texto('TA', 26, cy - 70, 16);
    texto('FA', 169, cy - 70, 16);
    texto('IA', 146, cy + 76, 16.5);
    texto('Spar', 286, cy + 76, 16.5);
    canales.forEach((c, k) => {
        const d = texto(c, erpIzq[k] + PAD + 1, cero - 15.5, 22.5);
        d.style.letterSpacing = '-0.5px';
    });

    if (r === 0) {
        const x0 = erpIzq[0] + ch7.scales.x.getPixelForValue(0);
        const y5 = top + ch7.scales.y.getPixelForValue(ticksUV[0]);
        texto('+5 µV', x0 - 7, y5 + 5.5, 16, 'right');
        texto('600 ms', 503, cero + 27.5, 16);
    }
});
</script>
</body>
</html>
